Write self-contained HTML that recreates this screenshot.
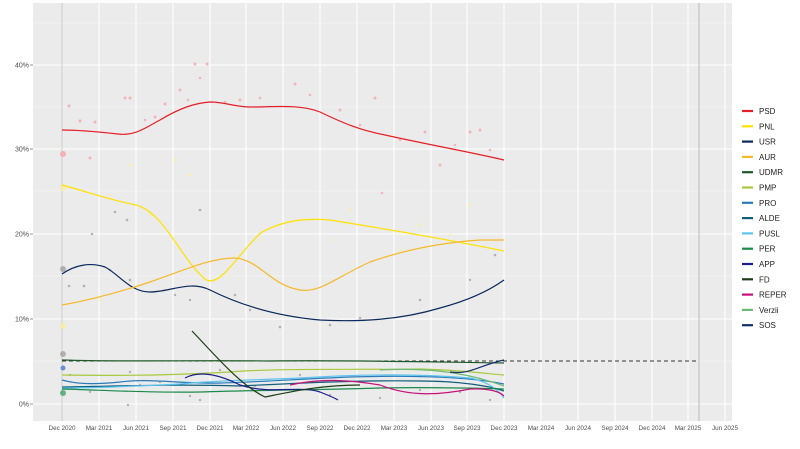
<!DOCTYPE html>
<html><head><meta charset="utf-8"><style>
body{margin:0;background:#fff;width:800px;height:444px;overflow:hidden;font-family:"Liberation Sans",sans-serif}
</style></head><body>
<svg width="800" height="444" viewBox="0 0 800 444" xmlns="http://www.w3.org/2000/svg" font-family="Liberation Sans, sans-serif">
<rect x="33" y="3" width="699" height="418" fill="#ebebeb"/>
<g stroke="#f5f5f5" stroke-width="0.6">
<line x1="33" x2="732" y1="361" y2="361"/><line x1="33" x2="732" y1="276" y2="276"/><line x1="33" x2="732" y1="191" y2="191"/><line x1="33" x2="732" y1="107" y2="107"/><line x1="33" x2="732" y1="23" y2="23"/>
</g>
<g stroke="#fff" stroke-width="1.1">
<line x1="33" x2="732" y1="404" y2="404"/><line x1="33" x2="732" y1="319" y2="319"/><line x1="33" x2="732" y1="234" y2="234"/><line x1="33" x2="732" y1="149" y2="149"/><line x1="33" x2="732" y1="65" y2="65"/>
<line x1="62" x2="62" y1="3" y2="421"/><line x1="99" x2="99" y1="3" y2="421"/><line x1="136" x2="136" y1="3" y2="421"/><line x1="173" x2="173" y1="3" y2="421"/><line x1="210" x2="210" y1="3" y2="421"/><line x1="246" x2="246" y1="3" y2="421"/><line x1="283" x2="283" y1="3" y2="421"/><line x1="320" x2="320" y1="3" y2="421"/><line x1="357" x2="357" y1="3" y2="421"/><line x1="394" x2="394" y1="3" y2="421"/><line x1="431" x2="431" y1="3" y2="421"/><line x1="467" x2="467" y1="3" y2="421"/><line x1="504" x2="504" y1="3" y2="421"/><line x1="541" x2="541" y1="3" y2="421"/><line x1="578" x2="578" y1="3" y2="421"/><line x1="615" x2="615" y1="3" y2="421"/><line x1="652" x2="652" y1="3" y2="421"/><line x1="688" x2="688" y1="3" y2="421"/><line x1="725" x2="725" y1="3" y2="421"/>
</g>
<line x1="62" x2="62" y1="3" y2="421" stroke="#ccc" stroke-width="1"/>
<line x1="699" x2="699" y1="3" y2="421" stroke="#bbb" stroke-width="1"/>
<!-- scatter -->
<g fill="#f4a6ae" opacity="0.8">
<circle cx="69" cy="106" r="1.5"/><circle cx="80" cy="121" r="1.5"/><circle cx="95" cy="122" r="1.5"/><circle cx="125" cy="98" r="1.5"/><circle cx="130" cy="98" r="1.5"/><circle cx="155" cy="117" r="1.5"/><circle cx="165" cy="104" r="1.5"/><circle cx="180" cy="90" r="1.5"/><circle cx="195" cy="64" r="1.5"/><circle cx="207" cy="64" r="1.5"/><circle cx="240" cy="100" r="1.5"/><circle cx="295" cy="84" r="1.5"/><circle cx="340" cy="110" r="1.5"/><circle cx="375" cy="98" r="1.5"/><circle cx="425" cy="132" r="1.5"/><circle cx="440" cy="165" r="1.5"/><circle cx="470" cy="132" r="1.5"/><circle cx="480" cy="130" r="1.5"/><circle cx="90" cy="158" r="1.5"/><circle cx="63" cy="154" r="3"/>
<circle cx="145" cy="120" r="1.3"/><circle cx="188" cy="100" r="1.3"/><circle cx="200" cy="78" r="1.3"/><circle cx="225" cy="102" r="1.3"/><circle cx="260" cy="98" r="1.3"/><circle cx="310" cy="95" r="1.3"/><circle cx="360" cy="125" r="1.3"/><circle cx="400" cy="140" r="1.3"/><circle cx="455" cy="145" r="1.3"/><circle cx="490" cy="150" r="1.3"/><circle cx="382" cy="193" r="1.3"/>
</g>
<g fill="#fbeea0" opacity="0.8">
<circle cx="130" cy="165" r="1.5"/><circle cx="175" cy="160" r="1.5"/><circle cx="190" cy="175" r="1.5"/><circle cx="300" cy="220" r="1.5"/><circle cx="350" cy="210" r="1.5"/><circle cx="420" cy="225" r="1.5"/><circle cx="470" cy="205" r="1.5"/><circle cx="63" cy="326" r="3"/><circle cx="63" cy="188" r="3"/>
<circle cx="110" cy="195" r="1.3"/><circle cx="150" cy="215" r="1.3"/><circle cx="205" cy="270" r="1.3"/><circle cx="260" cy="240" r="1.3"/><circle cx="330" cy="240" r="1.3"/><circle cx="400" cy="250" r="1.3"/><circle cx="450" cy="235" r="1.3"/><circle cx="100" cy="300" r="1.3"/><circle cx="230" cy="275" r="1.3"/>
</g>
<g fill="#999" opacity="0.7">
<circle cx="69" cy="286" r="1.3"/><circle cx="84" cy="286" r="1.3"/><circle cx="92" cy="234" r="1.3"/><circle cx="115" cy="212" r="1.3"/><circle cx="127" cy="220" r="1.3"/><circle cx="130" cy="280" r="1.3"/><circle cx="200" cy="210" r="1.3"/><circle cx="235" cy="295" r="1.3"/><circle cx="280" cy="327" r="1.3"/><circle cx="330" cy="325" r="1.3"/><circle cx="420" cy="300" r="1.3"/><circle cx="495" cy="255" r="1.3"/><circle cx="63" cy="269" r="3"/><circle cx="63" cy="354" r="3"/>
<circle cx="70" cy="375" r="1.2"/><circle cx="90" cy="392" r="1.2"/><circle cx="130" cy="372" r="1.2"/><circle cx="160" cy="382" r="1.2"/><circle cx="190" cy="396" r="1.2"/><circle cx="255" cy="386" r="1.2"/><circle cx="300" cy="375" r="1.2"/><circle cx="380" cy="398" r="1.2"/><circle cx="460" cy="392" r="1.2"/><circle cx="490" cy="400" r="1.2"/><circle cx="128" cy="405" r="1.2"/><circle cx="200" cy="400" r="1.2"/>
<circle cx="175" cy="295" r="1.2"/><circle cx="190" cy="300" r="1.2"/><circle cx="250" cy="310" r="1.2"/><circle cx="360" cy="318" r="1.2"/><circle cx="470" cy="280" r="1.2"/><circle cx="110" cy="270" r="1.2"/><circle cx="140" cy="385" r="1.2"/><circle cx="220" cy="370" r="1.2"/><circle cx="330" cy="395" r="1.2"/><circle cx="420" cy="390" r="1.2"/>
</g>
<circle cx="63" cy="368" r="2.5" fill="#6b8fd6"/><circle cx="63" cy="393" r="3" fill="#2a9a5a" opacity="0.7"/>
<!-- dashed threshold -->
<line x1="62" x2="699" y1="361" y2="361" stroke="#333" stroke-width="1.1" stroke-dasharray="4,3"/>
<g fill="none" stroke-width="1.2">
<path d="M62,130 C80,130 100,132 118,134 C135,136 145,128 160,120 C180,108 195,103 210,102 C225,102 235,107 250,107 C275,107 300,104 320,112 C345,124 360,130 385,135 C430,145 470,152 504,160" stroke="#e41f26"/>
<path d="M62,185 C85,191 110,200 136,205 C165,213 180,258 205,279 C220,290 240,250 262,232 C285,220 305,218 330,220 C380,228 440,238 504,251" stroke="#ffe100"/>
<path d="M62,274 C75,265 90,262 105,267 C120,275 130,292 150,292 C170,292 190,280 210,290 C240,305 275,316 320,320 C360,322 400,320 440,308 C470,300 490,290 504,280" stroke="#0b2a5b"/>
<path d="M62,305 C90,300 120,292 150,282 C185,270 210,258 235,258 C260,260 270,285 300,290 C320,293 335,278 370,262 C410,248 450,242 480,240 C490,240 500,240 504,240" stroke="#f5b92a"/>
<path d="M62,360 C120,362 200,360 270,361 C350,360 430,362 504,363" stroke="#1f5a2a"/>
<path d="M62,375 C120,376 180,375 230,372 C280,368 350,370 420,369 C460,370 490,374 504,375" stroke="#a8c93c"/>
<path d="M62,380 C80,385 100,384 120,382 C150,378 180,384 220,383 C260,382 300,379 350,377 C420,375 470,377 504,384" stroke="#2b7bba"/>
<path d="M62,387 C120,386 180,384 240,386 C300,383 360,380 420,381 C460,381 490,386 504,391" stroke="#0f5e7a"/>
<path d="M62,388 C100,388 140,386 180,384 C220,380 260,380 300,378 C360,374 420,374 470,378 C490,382 500,392 504,398" stroke="#5bc3ef"/>
<path d="M62,389 C100,390 150,393 200,392 C260,390 320,390 380,388 C430,387 470,388 504,389" stroke="#1a8a4a"/>
<path d="M185,378 C200,370 220,375 240,385 C270,395 300,385 320,392 C330,396 335,398 338,400" stroke="#1d1d8c"/>
<path d="M192,331 C215,355 240,385 265,397 C290,392 320,385 360,385" stroke="#1c3d16"/>
<path d="M290,385 C320,378 350,380 380,385 C410,397 440,395 470,389 C490,388 500,392 504,396" stroke="#c4127a"/>
<path d="M380,370 C420,368 460,370 504,386" stroke="#6bbb72"/>
<path d="M450,372 C470,375 480,365 504,360" stroke="#142e6e"/>
</g>
<!-- y axis -->
<g font-size="7" fill="#4d4d4d" text-anchor="end">
<text x="29" y="406.5">0%</text><text x="29" y="321.5">10%</text><text x="29" y="236.5">20%</text><text x="29" y="151.5">30%</text><text x="29" y="67.5">40%</text>
</g>
<g stroke="#4d4d4d" stroke-width="0.6"><line x1="30" x2="33" y1="404" y2="404"/><line x1="30" x2="33" y1="319" y2="319"/><line x1="30" x2="33" y1="234" y2="234"/><line x1="30" x2="33" y1="149" y2="149"/><line x1="30" x2="33" y1="65" y2="65"/></g>
<g font-size="6.3" fill="#4d4d4d" text-anchor="middle">
<text x="62" y="430">Dec 2020</text><text x="99" y="430">Mar 2021</text><text x="136" y="430">Jun 2021</text><text x="173" y="430">Sep 2021</text><text x="210" y="430">Dec 2021</text><text x="246" y="430">Mar 2022</text><text x="283" y="430">Jun 2022</text><text x="320" y="430">Sep 2022</text><text x="357" y="430">Dec 2022</text><text x="394" y="430">Mar 2023</text><text x="431" y="430">Jun 2023</text><text x="467" y="430">Sep 2023</text><text x="504" y="430">Dec 2023</text><text x="541" y="430">Mar 2024</text><text x="578" y="430">Jun 2024</text><text x="615" y="430">Sep 2024</text><text x="652" y="430">Dec 2024</text><text x="688" y="430">Mar 2025</text><text x="725" y="430">Jun 2025</text>
</g>
<!-- legend -->
<g stroke-width="2.2">
<line x1="742" x2="753" y1="111" y2="111" stroke="#e41f26"/><line x1="742" x2="753" y1="126.3" y2="126.3" stroke="#ffe100"/><line x1="742" x2="753" y1="141.6" y2="141.6" stroke="#0b2a5b"/><line x1="742" x2="753" y1="156.9" y2="156.9" stroke="#f5b92a"/><line x1="742" x2="753" y1="172.2" y2="172.2" stroke="#1f5a2a"/><line x1="742" x2="753" y1="187.5" y2="187.5" stroke="#a8c93c"/><line x1="742" x2="753" y1="202.8" y2="202.8" stroke="#2b7bba"/><line x1="742" x2="753" y1="218.1" y2="218.1" stroke="#0f5e7a"/><line x1="742" x2="753" y1="233.4" y2="233.4" stroke="#5bc3ef"/><line x1="742" x2="753" y1="248.7" y2="248.7" stroke="#1a8a4a"/><line x1="742" x2="753" y1="264" y2="264" stroke="#1d1d8c"/><line x1="742" x2="753" y1="279.3" y2="279.3" stroke="#1c3d16"/><line x1="742" x2="753" y1="294.6" y2="294.6" stroke="#c4127a"/><line x1="742" x2="753" y1="309.9" y2="309.9" stroke="#6bbb72"/><line x1="742" x2="753" y1="325.2" y2="325.2" stroke="#142e6e"/>
</g>
<g font-size="8" fill="#222">
<text x="759" y="114">PSD</text><text x="759" y="129.3">PNL</text><text x="759" y="144.6">USR</text><text x="759" y="159.9">AUR</text><text x="759" y="175.2">UDMR</text><text x="759" y="190.5">PMP</text><text x="759" y="205.8">PRO</text><text x="759" y="221.1">ALDE</text><text x="759" y="236.4">PUSL</text><text x="759" y="251.7">PER</text><text x="759" y="267">APP</text><text x="759" y="282.3">FD</text><text x="759" y="297.6">REPER</text><text x="759" y="312.9">Verzii</text><text x="759" y="328.2">SOS</text>
</g>
</svg>
</body></html>
